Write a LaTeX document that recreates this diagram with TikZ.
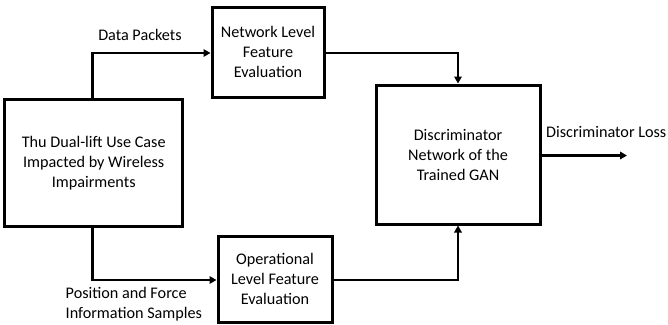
\documentclass[tikz,border=0pt]{standalone}
\usepackage{fontspec}
\setmainfont{Carlito}
\usetikzlibrary{arrows.meta}
\begin{document}
\begin{tikzpicture}[x=1pt,y=-1pt,
  blk/.style={draw,line width=3pt,align=center,inner sep=0pt,font=\fontsize{16.2}{20}\selectfont},
  conn/.style={line width=2.8pt,-{Triangle[length=7pt,width=7.5pt]}},
  lbl/.style={font=\fontsize{16.2}{20}\selectfont,inner sep=0pt}]
\useasboundingbox (0,0) rectangle (668,324);
\node[blk,minimum width=178pt,minimum height=127pt] (src) at (93.7,163.3) {Thu Dual-lift Use Case\\Impacted by Wireless\\Impairments};
\node[blk,minimum width=112pt,minimum height=90pt] (net) at (268,52.2) {Network Level\\Feature\\Evaluation};
\node[blk,minimum width=114pt,minimum height=86pt] (op) at (275,279) {Operational\\Level Feature\\Evaluation};
\node[blk,minimum width=164pt,minimum height=139pt] (dis) at (458,154.5) {Discriminator\\Network of the\\Trained GAN};
\coordinate (out) at (627,155.5);
\draw[conn] (src.north -| 92.7,0) |- (net.west |- 0,53);
\draw[conn] (src.south -| 92.7,0) |- (op.west |- 0,280);
\draw[conn] (net.east |- 0,53) -| (dis.north);
\draw[conn] (op.east |- 0,280) -| (dis.south);
\draw[conn] (dis.east |- out) -- (out);
\node[lbl] (dp) at (140,35) {Data Packets};
\node[lbl,align=left,anchor=west] (pf) at (65.5,304) {Position and Force\\Information Samples};
\node[lbl,anchor=west] (dl) at (546,132) {Discriminator Loss};
\end{tikzpicture}
\end{document}
